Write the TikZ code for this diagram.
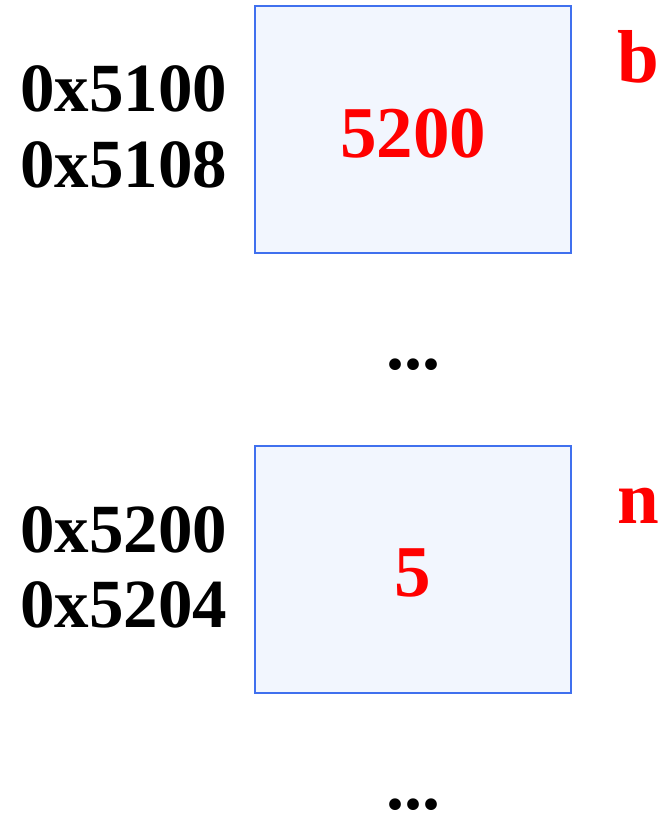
\documentclass[tikz,border=0pt]{standalone}
\usepackage{fontspec}
\setmainfont{Liberation Serif}
\definecolor{boxblue}{RGB}{64,112,238}
\definecolor{boxfill}{RGB}{242,246,254}
\definecolor{valred}{RGB}{255,0,0}
\begin{document}
\begin{tikzpicture}[x=1pt,y=-1pt,
  addr/.style={anchor=base west,inner sep=0pt,font=\bfseries\fontsize{69}{75}\selectfont},
  val/.style={anchor=base,inner sep=0pt,text=valred,font=\bfseries\fontsize{73}{80}\selectfont},
  varname/.style={anchor=base east,inner sep=0pt,text=valred,font=\bfseries\fontsize{75}{80}\selectfont},
  dots/.style={anchor=base,inner sep=0pt,text depth=0pt,text height=12pt,font=\bfseries\fontsize{72}{80}\selectfont},
  cell/.style={draw=boxblue,fill=boxfill,line width=2.2pt}]
\useasboundingbox (0,0) rectangle (663,813);
\draw[cell] (255,6) rectangle (571,253);
\draw[cell] (255,446) rectangle (571,693);
\node[addr] (a1) at (20,112) {0x5100};
\node[addr] (a2) at (20,187) {0x5108};
\node[addr] (a3) at (20,552) {0x5200};
\node[addr] (a4) at (20,627) {0x5204};
\node[val] (v1) at (413,158) {5200};
\node[val] (v2) at (413,596) {5};
\node[varname] (b) at (659,83) {b};
\node[varname] (n) at (659,523) {n};
\node[dots] (d1) at (413,369) {...};
\node[dots] (d2) at (413,809) {...};
\end{tikzpicture}
\end{document}
